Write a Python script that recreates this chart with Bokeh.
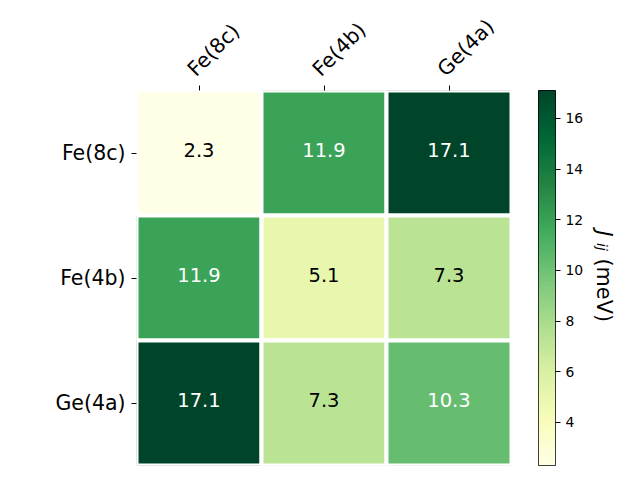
import math
import numpy as np
from bokeh.plotting import figure
from bokeh.models import (FactorRange, Range1d, FixedTicker, Label, ColumnDataSource,
                          LinearAxis, CustomLabelingPolicy)
from bokeh.layouts import row
from bokeh.palettes import YlGn9
from bokeh.transform import linear_cmap
from bokeh.embed import file_html
from bokeh.resources import INLINE
from bokeh.core.properties import value

# ---------------- data ----------------
sites = ["Fe(8c)", "Fe(4b)", "Ge(4a)"]
row_fe8c = [2.3, 11.9, 17.1]
row_fe4b = [11.9, 5.1, 7.3]
row_ge4a = [17.1, 7.3, 10.3]
cbar_ticks = [4, 6, 8, 10, 12, 14, 16]
cbar_label_parts = ["J", "ij", "(meV)"]

matrix = [row_fe8c, row_fe4b, row_ge4a]
vmin = min(min(r) for r in matrix)
vmax = max(max(r) for r in matrix)
n = len(sites)

# ---------------- colormap (YlGn, light -> dark, interpolated) ----------------
base = list(reversed(YlGn9))
def hex2rgb(h):
    h = h.lstrip("#")
    return [int(h[i:i + 2], 16) for i in (0, 2, 4)]
base_rgb = np.array([hex2rgb(c) for c in base], dtype=float)
pos = np.linspace(0, 1, len(base))
tt = np.linspace(0, 1, 256)
interp = np.stack([np.interp(tt, pos, base_rgb[:, k]) for k in range(3)], axis=1)
palette = ["#%02x%02x%02x" % tuple(int(round(c)) for c in rgb) for rgb in interp]

# ---------------- table ----------------
xs, ys, vs, labels, tcolors = [], [], [], [], []
for i, rname in enumerate(sites):
    for j, cname in enumerate(sites):
        v = matrix[i][j]
        xs.append(j + 0.5)          # column index -> centre of its unit cell
        ys.append(rname)
        vs.append(v)
        labels.append(f"{v:.1f}")
        tcolors.append("white" if v > (vmin + vmax) / 2 else "black")
src = ColumnDataSource(dict(x=xs, y=ys, v=vs, label=labels, tc=tcolors))

FONT = "DejaVu Sans"
TOP, BOTTOM = 90, 8
FRAME = 375
H = TOP + FRAME + BOTTOM
LEFT = 136

# ---------------- heatmap ----------------
p = figure(width=LEFT + FRAME, height=H,
           x_range=Range1d(0, n), y_range=FactorRange(*reversed(sites)),
           x_axis_location="above", output_backend="svg", toolbar_location=None,
           min_border_left=LEFT, min_border_right=0, min_border_top=TOP, min_border_bottom=BOTTOM,
           outline_line_color=None, background_fill_color="white")
p.grid.visible = False
p.rect(x="x", y="y", width=1, height=1, source=src,
       fill_color=linear_cmap("v", palette, low=vmin, high=vmax),
       line_color="white", line_width=4)
p.text(x="x", y="y", text="label", source=src, text_color="tc",
       text_align="center", text_baseline="middle",
       text_font=value(FONT), text_font_size="19.5px", y_offset=-3)

for ax in (p.xaxis[0], p.yaxis[0]):
    ax.axis_line_color = None
    ax.major_tick_out = 5
    ax.major_tick_in = 0
    ax.major_tick_line_color = "black"
    ax.minor_tick_line_color = None
    ax.major_label_text_font = FONT
    ax.major_label_text_font_size = "20.5px"
    ax.major_label_text_color = "black"
    ax.major_label_standoff = 6
tick_pos = [i + 0.5 for i in range(n)]
# top axis: ticks only (labels drawn by a second, slightly shifted axis)
p.xaxis[0].ticker = FixedTicker(ticks=tick_pos)
p.xaxis[0].major_label_standoff = 0
p.xaxis[0].major_label_text_font_size = "0px"
p.xaxis[0].major_label_policy = CustomLabelingPolicy(
    code="for (let k = 0; k < indices.size; k++) { indices.unset(k) }\nreturn indices")

shift = 8 / (FRAME / n)
p.extra_x_ranges = {"lab": Range1d(shift, n + shift)}
lab_axis = LinearAxis(x_range_name="lab",
                      ticker=FixedTicker(ticks=tick_pos),
                      major_label_overrides={t: s for t, s in zip(tick_pos, sites)},
                      major_label_orientation=math.pi / 4,
                      axis_line_color=None, major_tick_line_color=None,
                      minor_tick_line_color=None, major_tick_out=0, major_tick_in=0,
                      major_label_standoff=13,
                      major_label_text_font=FONT, major_label_text_font_size="20.5px",
                      major_label_text_color="black")
p.add_layout(lab_axis, "above")

# ---------------- colorbar ----------------
cb = figure(width=75, height=H, x_range=Range1d(0, 1), y_range=Range1d(vmin, vmax),
            x_axis_location=None, y_axis_location="right",
            output_backend="svg", toolbar_location=None,
            min_border_left=27, min_border_right=29, min_border_top=TOP, min_border_bottom=BOTTOM,
            outline_line_color="black", outline_line_width=1)
cb.grid.visible = False
grad = np.linspace(vmin, vmax, 256).reshape(256, 1)
cb.image(image=[grad], x=0, y=vmin, dw=1, dh=vmax - vmin, palette=palette)
ya = cb.yaxis[0]
ya.ticker = FixedTicker(ticks=cbar_ticks)
ya.axis_line_color = None
ya.major_tick_out = 5
ya.major_tick_in = 0
ya.minor_tick_line_color = None
ya.major_tick_line_color = "black"
ya.major_label_text_font = FONT
ya.major_label_text_font_size = "13.9px"
ya.major_label_text_color = "black"
ya.major_label_standoff = 5

# ---------------- colorbar label ----------------
lf = figure(width=640 - (LEFT + FRAME) - 75, height=H, x_range=Range1d(0, 1),
            y_range=Range1d(vmin, vmax), x_axis_location=None, y_axis_location=None,
            output_backend="svg", toolbar_location=None,
            min_border_left=0, min_border_right=0, min_border_top=TOP, min_border_bottom=BOTTOM,
            outline_line_color=None)
lf.grid.visible = False
mid = (vmin + vmax) / 2
lf.add_layout(Label(x=0, y=mid, x_offset=17, y_offset=47.5, text=cbar_label_parts[0],
                    angle=-math.pi / 2, text_align="left", text_baseline="alphabetic",
                    text_font=FONT, text_font_style="italic", text_font_size="20.8px",
                    text_color="black"))
lf.add_layout(Label(x=0, y=mid, x_offset=15, y_offset=35, text=cbar_label_parts[1],
                    angle=-math.pi / 2, text_align="left", text_baseline="alphabetic",
                    text_font=FONT, text_font_style="italic", text_font_size="14px",
                    text_color="black"))
lf.add_layout(Label(x=0, y=mid, x_offset=17, y_offset=19.5, text=cbar_label_parts[2],
                    angle=-math.pi / 2, text_align="left", text_baseline="alphabetic",
                    text_font=FONT, text_font_size="20.8px", text_color="black"))

layout = row(p, cb, lf)
open("out.html", "w").write(file_html(layout, INLINE))
